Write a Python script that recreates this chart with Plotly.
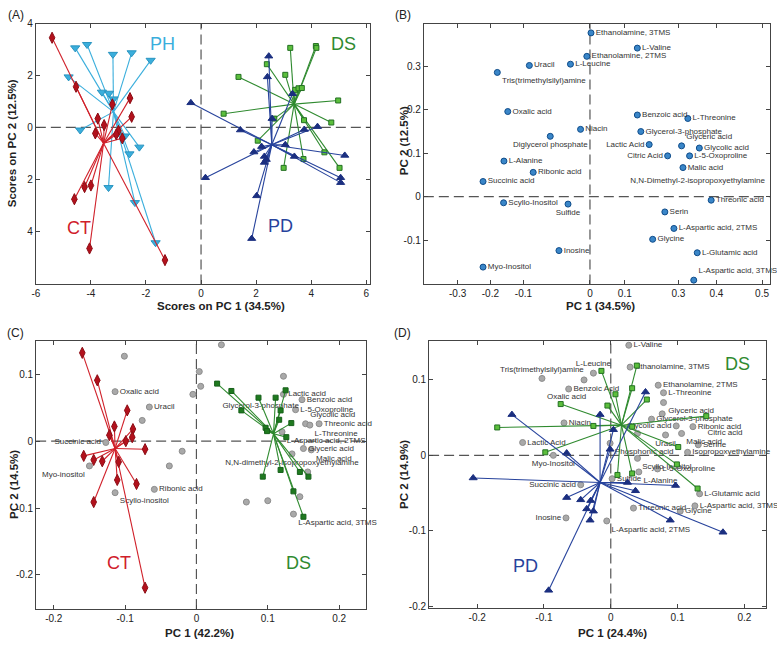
import plotly.graph_objects as go

# ---------------- panel A : scores, spokes to group centres ----------------
A_ct_center = (-3.54, -0.61)
A_ct_x = [-5.41, -4.54, -2.58, -3.22, -2.52, -3.75, -3.52, -3.00, -3.84, -2.86, -3.08, -4.23, -4.00, -4.60, -4.05, -1.31]
A_ct_y = [3.46, 1.57, 1.13, 0.89, 0.41, 0.34, 0.09, -0.13, -0.23, -0.42, -0.27, -2.30, -2.24, -2.77, -4.67, -5.12]

A_ph_center = (-3.18, 0.60)
A_ph_x = [-4.57, -4.14, -3.20, -2.52, -1.83, -4.81, -3.60, -3.34, -3.18, -4.39, -2.76, -2.24, -2.60, -3.36, -2.40, -1.65]
A_ph_y = [3.07, 3.20, 2.82, 2.88, 2.59, 1.95, 1.36, 1.32, 1.10, -0.10, -0.33, -0.76, -1.02, -2.32, -2.90, -4.45]

A_pd_center = (2.57, -0.67)
A_pd_x = [-0.37, 0.16, 1.43, 1.92, 2.20, 2.30, 2.30, 2.37, 2.02, 1.84, 2.46, 2.41, 2.58, 3.06, 3.32, 3.75, 4.23, 5.07, 5.07, 5.22, 3.39]
A_pd_y = [0.95, -1.94, -0.10, -0.95, -0.74, -1.12, -1.35, -1.24, -2.64, -4.29, 2.75, 1.95, 0.34, -0.67, 1.30, -0.08, 0.03, -1.94, -2.13, -1.08, -1.12]

A_ds_center = (3.38, 0.90)
A_ds_x = [3.24, 4.17, 4.19, 2.39, 1.36, 3.06, 3.42, 3.54, 3.66, 4.98, 0.82, 2.66, 3.74, 4.73, 2.06, 3.72, 4.48, 3.00, 5.03]
A_ds_y = [3.07, 3.14, 3.07, 2.44, 1.95, 2.03, 1.45, 1.51, 1.52, 1.04, 0.53, 0.34, 0.28, 0.19, -0.51, -1.22, -0.96, -1.56, -1.56]

A_xticks = [-6, -4, -2, 0, 2, 4, 6]
A_xtext = ["-6", "-4", "-2", "0", "2", "4", "6"]
A_yticks = [4, 2, 0, -2, -4]
A_ytext = ["4", "2", "0", "2", "4"]

# ---------------- panel B : loadings ----------------
B_names = ["Ethanolamine, 3TMS", "L-Valine", "Ethanolamine, 2TMS", "L-Leucine", "Uracil",
           "Tris(trimethylsilyl)amine", "Oxalic acid", "Niacin", "Diglycerol phosphate", "L-Alanine",
           "Ribonic acid", "Succinic acid", "Scyllo-Inositol", "Sulfide", "Inosine", "Myo-Inositol",
           "Benzoic acid", "L-Threonine", "Glycerol-3-phosphate", "Lactic Acid", "Glyceric acid",
           "Glycolic acid", "Citric Acid", "L-5-Oxoproline", "Malic acid", "Threonic acid", "Serin",
           "L-Aspartic acid, 2TMS", "Glycine", "L-Glutamic acid", "L-Aspartic acid, 3TMS"]
B_x = [0.003, 0.136, -0.009, -0.056, -0.174, -0.266, -0.236, -0.027, -0.114, -0.247,
       -0.163, -0.307, -0.248, -0.063, -0.089, -0.307, 0.136, 0.281, 0.146, 0.170, 0.263,
       0.314, 0.223, 0.286, 0.267, 0.348, 0.215, 0.241, 0.180, 0.308, 0.298]
B_y = [0.377, 0.342, 0.323, 0.305, 0.302, 0.286, 0.196, 0.155, 0.139, 0.082,
       0.056, 0.035, -0.014, -0.017, -0.124, -0.162, 0.188, 0.180, 0.150, 0.120, 0.117,
       0.112, 0.094, 0.094, 0.067, -0.008, -0.035, -0.073, -0.098, -0.129, -0.192]
B_text_names = ["N,N-Dimethyl-2-isopropoxyethylamine"]
B_text_x = [0.309]
B_text_y = [0.036]
B_side = {"Tris(trimethylsilyl)amine": "bottom right", "Diglycerol phosphate": "bottom center",
          "Sulfide": "bottom center", "Lactic Acid": "middle left", "Citric Acid": "middle left",
          "Glyceric acid": "top right", "L-Aspartic acid, 3TMS": "top right"}
B_xticks = [-0.380, -0.286, -0.191, 0, 0.100, 0.254, 0.363, 0.494]
B_xtext = ["-0.3", "-0.2", "-0.1", "0", "0.1", "0.3", "0.4", "0.5"]
B_yticks = [-0.1, 0, 0.1, 0.2, 0.3, 0.4]
B_ytext = ["-0.1", "0", "0.1", "0.2", "0.3", "0.4"]

# ---------------- panel C : CT vs DS biplot ----------------
C_ct_center = (-0.114, -0.011)
C_ct_x = [-0.160, -0.139, -0.097, -0.115, -0.122, -0.089, -0.090, -0.099, -0.072, -0.158, -0.144, -0.132, -0.109, -0.111, -0.084, -0.144, -0.072]
C_ct_y = [0.132, 0.091, 0.046, 0.022, 0.009, 0.018, 0.006, 0.000, -0.012, -0.022, -0.028, -0.030, -0.031, -0.058, -0.064, -0.091, -0.219]
C_ds_center = (0.108, 0.011)
C_ds_x = [0.029, 0.049, 0.087, 0.111, 0.125, 0.063, 0.118, 0.116, 0.133, 0.097, 0.099, 0.126, 0.093, 0.118, 0.145, 0.157, 0.136, 0.150]
C_ds_y = [0.086, 0.075, 0.065, 0.065, 0.076, 0.046, 0.046, 0.032, 0.027, 0.020, 0.015, 0.006, -0.053, -0.043, -0.046, -0.053, -0.075, -0.113]
C_names = ["Oxalic acid", "Uracil", "Succinic acid", "Myo-inositol", "Ribonic acid", "Scyllo-inositol",
           "Lactic acid", "Benzoic acid", "L-5-Oxoproline", "Glycolic acid", "Threonic acid", "L-Threonine",
           "L-Aspartic acid, 2TMS", "Glyceric acid", "Malic acid", "N,N-dimethyl-2-isopropoxyethylamine",
           "L-Aspartic acid, 3TMS", "", "", "", "", "", "", "", "", "", "", "", "", ""]
C_x = [-0.114, -0.066, -0.127, -0.150, -0.059, -0.114, 0.122, 0.148, 0.139, 0.153, 0.172, 0.159,
       0.120, 0.150, 0.161, 0.134, 0.136, -0.101, -0.076, -0.020, -0.038, 0.004, 0.006, -0.005,
       0.035, 0.122, 0.156, 0.070, 0.100, 0.145]
C_y = [0.074, 0.051, -0.002, -0.037, -0.072, -0.077, 0.070, 0.062, 0.047, 0.026, 0.026, 0.024,
       0.014, -0.011, -0.013, -0.019, -0.109, 0.127, 0.031, -0.015, -0.037, 0.104, 0.082, 0.070,
       0.144, 0.097, -0.046, -0.091, -0.089, -0.083]
C_text_names = ["Glycerol-3-phosphate"]
C_text_x = [0.090]
C_text_y = [0.053]
C_side = {"Succinic acid": "middle left", "Myo-inositol": "bottom left", "Scyllo-inositol": "bottom right",
          "Glycolic acid": "top right", "L-Threonine": "bottom right", "L-Aspartic acid, 2TMS": "bottom right",
          "Malic acid": "bottom right", "N,N-dimethyl-2-isopropoxyethylamine": "bottom center",
          "L-Aspartic acid, 3TMS": "bottom right"}
C_xticks = [-0.2, -0.1, 0, 0.1, 0.2]
C_xtext = ["-0.2", "-0.1", "0", "0.1", "0.2"]
C_yticks = [0.1, 0, -0.1, -0.2]
C_ytext = ["0.1", "0", "-0.1", "-0.2"]

# ---------------- panel D : PD vs DS biplot ----------------
D_ds_center = (0.016, 0.040)
D_ds_x = [0.039, -0.014, 0.032, 0.007, 0.054, -0.005, 0.143, -0.026, 0.032, 0.101, 0.099, 0.010, 0.032, 0.130, -0.075, -0.170, -0.098]
D_ds_y = [0.119, 0.112, 0.089, 0.081, 0.074, 0.066, 0.052, 0.039, 0.038, 0.011, -0.012, -0.026, -0.024, -0.044, 0.068, 0.037, 0.004]
D_pd_center = (-0.016, -0.036)
D_pd_x = [-0.148, -0.206, -0.066, -0.066, -0.045, -0.036, -0.030, -0.026, -0.031, -0.093, -0.016, 0.004, -0.001, 0.052, 0.025, 0.037, 0.097, 0.089, 0.168]
D_pd_y = [0.054, -0.030, 0.003, -0.056, -0.059, -0.071, -0.060, -0.074, -0.086, -0.179, 0.054, 0.034, 0.008, 0.084, -0.036, -0.047, -0.040, -0.086, -0.102]
D_names = ["L-Valine", "Ethanolamine, 3TMS", "L-Leucine", "Tris(trimethylsilyl)amine", "Benzoic Acid",
           "Ethanolamine, 2TMS", "L-Threonine", "Glyceric acid", "Glycerol-3-phosphate", "Glycolic acid",
           "Ribonic acid", "Malic acid", "Uracil", "Niacin", "Lactic Acid", "Phosphonic acid", "Serine",
           "Isopropoxyethylamine", "Myo-Inositol", "Scyllo-Inositol", "L-5-Oxoproline", "L-Alanine",
           "Sulfide", "Succinic acid", "L-Glutamic acid", "L-Aspartic acid, 3TMS", "Threonic acid",
           "Glycine", "Inosine", "L-Aspartic acid, 2TMS", "", "", ""]
D_x = [0.027, 0.029, -0.026, -0.103, -0.063, 0.071, 0.079, 0.079, 0.061, 0.098, 0.123, 0.106, 0.082,
       -0.070, -0.132, -0.001, 0.131, 0.115, -0.086, 0.040, 0.070, 0.042, 0.002, -0.045, 0.133, 0.126,
       0.034, 0.104, -0.067, -0.006, -0.040, 0.077, 0.040]
D_y = [0.146, 0.117, 0.109, 0.102, 0.088, 0.093, 0.083, 0.070, 0.048, 0.039, 0.038, 0.029, 0.027,
       0.043, 0.017, 0.016, 0.014, 0.004, 0.000, -0.004, -0.018, -0.022, -0.031, -0.039, -0.051, -0.067,
       -0.070, -0.074, -0.083, -0.087, 0.100, 0.055, 0.029]
D_text_names = ["Oxalic acid", "Citric acid"]
D_text_x = [-0.066, 0.171]
D_text_y = [0.077, 0.030]
D_side = {"L-Leucine": "top center", "Tris(trimethylsilyl)amine": "top center", "Glyceric acid": "bottom right",
          "Glycolic acid": "middle left", "Malic acid": "bottom right", "Uracil": "bottom center",
          "Phosphonic acid": "bottom right", "Myo-Inositol": "bottom center", "Scyllo-Inositol": "bottom right",
          "L-Alanine": "bottom right", "Succinic acid": "middle left", "Inosine": "middle left",
          "L-Aspartic acid, 2TMS": "bottom right"}
D_xticks = [-0.2, -0.1, 0, 0.1, 0.2]
D_xtext = ["-0.2", "-0.1", "0", "0.1", "0.2"]
D_yticks = [0.1, 0, -0.1, -0.2]
D_ytext = ["0.1", "0", "-0.1", "-0.2"]

FONT = "Arial, Liberation Sans, sans-serif"
W, H = 777, 645
RED, RED_M = "#d0202a", "#b3111c"
LBLUE = "#3aaedc"
NAVY, NAVY_M = "#27439c", "#1b2f80"
GREEN, GREEN_M, GREEN_E = "#2f8a2f", "#5cbf3c", "#237023"
GREY, GREY_E = "#a9a9a9", "#8d8d8d"

fig = go.Figure()


def spokes(center, xs, ys):
    lx, ly = [], []
    for x, y in zip(xs, ys):
        lx += [center[0], x, None]
        ly += [center[1], y, None]
    return lx, ly


def add_group(center, xs, ys, lcolor, symbol, size, fill, edge, ax):
    lx, ly = spokes(center, xs, ys)
    fig.add_trace(go.Scatter(x=lx, y=ly, mode="lines", line=dict(color=lcolor, width=1.1),
                             xaxis="x" + ax, yaxis="y" + ax, hoverinfo="skip"))
    fig.add_trace(go.Scatter(x=xs, y=ys, mode="markers",
                             marker=dict(symbol=symbol, size=size, color=fill, line=dict(color=edge, width=1)),
                             xaxis="x" + ax, yaxis="y" + ax))


def add_labels(names, xs, ys, sides, fill, edge, size, ax):
    pos = [sides.get(n, "middle right") for n in names]
    fig.add_trace(go.Scatter(x=xs, y=ys, mode="markers+text", text=names, textposition=pos,
                             textfont=dict(size=8, color="#333", family=FONT),
                             marker=dict(size=size, color=fill, line=dict(color=edge, width=1)),
                             xaxis="x" + ax, yaxis="y" + ax, cliponaxis=False))


def add_text_only(names, xs, ys, ax):
    fig.add_trace(go.Scatter(x=xs, y=ys, mode="text", text=names,
                             textfont=dict(size=8, color="#333", family=FONT),
                             xaxis="x" + ax, yaxis="y" + ax, cliponaxis=False))


# A
add_group(A_ph_center, A_ph_x, A_ph_y, LBLUE, "triangle-down", 8, LBLUE, "#2a94c0", "")
add_group(A_ct_center, A_ct_x, A_ct_y, RED, "diamond-tall", 8, RED_M, "#8c0d15", "")
add_group(A_ds_center, A_ds_x, A_ds_y, GREEN, "square", 5, GREEN_M, GREEN_E, "")
add_group(A_pd_center, A_pd_x, A_pd_y, NAVY, "triangle-up", 7, NAVY_M, NAVY_M, "")

# B
add_labels(B_names, B_x, B_y, B_side, "#3a86c8", "#0f4c8a", 6, "2")
add_text_only(B_text_names, B_text_x, B_text_y, "2")

# C
add_labels(C_names, C_x, C_y, C_side, GREY, GREY_E, 6, "3")
add_text_only(C_text_names, C_text_x, C_text_y, "3")
add_group(C_ct_center, C_ct_x, C_ct_y, RED, "diamond-tall", 8, RED_M, "#8c0d15", "3")
add_group(C_ds_center, C_ds_x, C_ds_y, GREEN, "square", 5, "#1f7a1f", "#16601a", "3")

# D
add_labels(D_names, D_x, D_y, D_side, GREY, GREY_E, 6, "4")
add_text_only(D_text_names, D_text_x, D_text_y, "4")
add_group(D_ds_center, D_ds_x, D_ds_y, GREEN, "square", 5, GREEN_M, GREEN_E, "4")
add_group(D_pd_center, D_pd_x, D_pd_y, NAVY, "triangle-up", 7, NAVY_M, NAVY_M, "4")


def axis(px0, px1, size, rng, tv, tt, vertical=False):
    if vertical:
        dom = [1 - px1 / size, 1 - px0 / size]
    else:
        dom = [px0 / size, px1 / size]
    return dict(domain=dom, range=rng, tickvals=tv, ticktext=tt, ticks="inside", ticklen=4,
                tickcolor="#444", showline=True, linecolor="#444", linewidth=1, mirror="allticks",
                showgrid=False, zeroline=False, tickfont=dict(size=10, color="#222", family=FONT))


fig.update_layout(
    xaxis=axis(32, 368, W, [-6.0, 6.14], A_xticks, A_xtext),
    yaxis=dict(axis(19, 283, H, [-6.06, 4.0], A_yticks, A_ytext, True), anchor="x"),
    xaxis2=dict(axis(422, 770, W, [-0.477, 0.517], B_xticks, B_xtext), anchor="y2"),
    yaxis2=dict(axis(19, 283, H, [-0.202, 0.398], B_yticks, B_ytext, True), anchor="x2"),
    xaxis3=dict(axis(32.3, 364.3, W, [-0.2247, 0.2383], C_xticks, C_xtext), anchor="y3"),
    yaxis3=dict(axis(340.7, 611.7, H, [-0.251, 0.149], C_yticks, C_ytext, True), anchor="x3"),
    xaxis4=dict(axis(427.3, 766, W, [-0.272, 0.2325], D_xticks, D_xtext), anchor="y4"),
    yaxis4=dict(axis(340.7, 611, H, [-0.203, 0.151], D_yticks, D_ytext, True), anchor="x4"),
)

shapes = []
for ax in ["", "2", "3", "4"]:
    dash = dict(color="#555", width=1.2, dash="10px,5px")
    shapes.append(dict(type="line", xref="x" + ax, yref="y" + ax + " domain", x0=0, x1=0, y0=0, y1=1, line=dash, layer="below"))
    shapes.append(dict(type="line", xref="x" + ax + " domain", yref="y" + ax, x0=0, x1=1, y0=0, y1=0, line=dash, layer="below"))

ann = []


def txt(text, x, y, size, color="#222", bold=False, angle=0, xref="paper", yref="paper"):
    ann.append(dict(text="<b>%s</b>" % text if bold else text, x=x, y=y, xref=xref, yref=yref,
                    xanchor="center", yanchor="middle", showarrow=False, textangle=angle,
                    font=dict(size=size, color=color, family=FONT)))


# panel letters
for letter, px, py in [("(A)", 12, 10), ("(B)", 401, 10), ("(C)", 12, 332), ("(D)", 401, 332)]:
    txt(letter, px / W, 1 - py / H, 12)
# axis titles
txt("Scores on PC 1 (34.5%)", 218 / W, 1 - 305 / H, 11.5, bold=True)
txt("Scores on PC 2 (12.5%)", 8 / W, 1 - 140 / H, 11.5, bold=True, angle=-90)
txt("PC 1 (34.5%)", 600 / W, 1 - 305 / H, 11.5, bold=True)
txt("PC 2 (12.5%)", 402 / W, 1 - 137 / H, 11.5, bold=True, angle=-90)
txt("PC 1 (42.2%)", 197 / W, 1 - 636 / H, 11.5, bold=True)
txt("PC 2 (14.5%)", 10 / W, 1 - 485 / H, 11.5, bold=True, angle=-90)
txt("PC 1 (24.4%)", 612 / W, 1 - 636 / H, 11.5, bold=True)
txt("PC 2 (14.9%)", 402 / W, 1 - 475 / H, 11.5, bold=True, angle=-90)
# group names
txt("PH", -1.41, 3.2, 18, LBLUE, xref="x", yref="y")
txt("CT", -4.42, -3.89, 18, RED, xref="x", yref="y")
txt("DS", 5.16, 3.2, 18, GREEN, xref="x", yref="y")
txt("PD", 2.90, -3.81, 18, NAVY, xref="x", yref="y")
txt("CT", -0.108, -0.182, 18, RED, xref="x3", yref="y3")
txt("DS", 0.143, -0.182, 18, GREEN, xref="x3", yref="y3")
txt("DS", 0.189, 0.121, 18, GREEN, xref="x4", yref="y4")
txt("PD", -0.127, -0.147, 18, NAVY, xref="x4", yref="y4")

fig.update_layout(width=W, height=H, margin=dict(l=0, r=0, t=0, b=0), showlegend=False,
                  plot_bgcolor="white", paper_bgcolor="white", shapes=shapes, annotations=ann,
                  font=dict(family=FONT))

fig.write_html("out.html", config={"displayModeBar": False},
               post_script="document.body.style.margin='0px';")
